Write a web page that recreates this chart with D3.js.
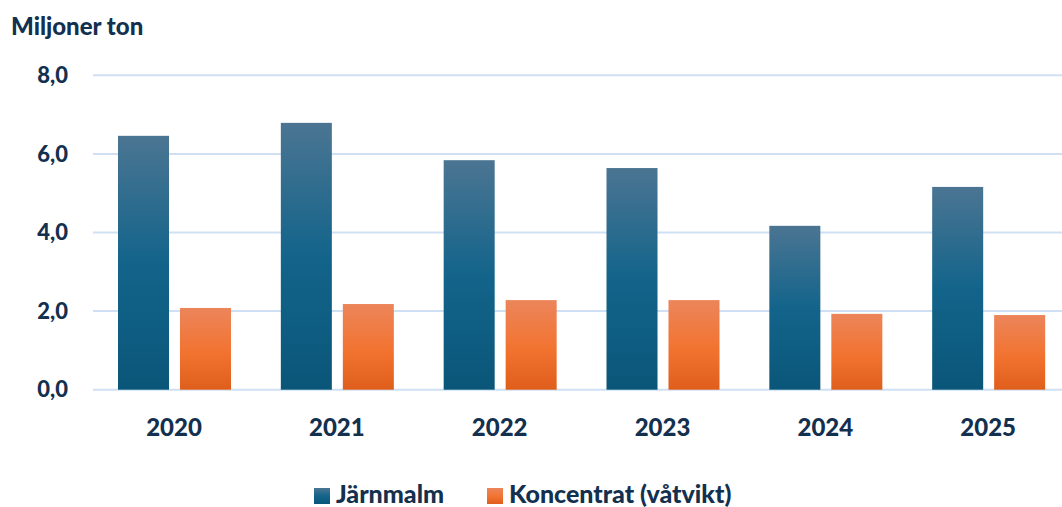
<!DOCTYPE html>
<html>
<head>
<meta charset="utf-8">
<script src="https://cdn.jsdelivr.net/npm/d3@7"></script>
<style>
  body { margin: 0; background: #fff; }
  svg { display: block; font-family: Lato, "Open Sans", sans-serif; font-weight: 900; }
</style>
</head>
<body>
<div id="root"></div>
<script>
"use strict";

// data
var years = ['2020', '2021', '2022', '2023', '2024', '2025'];
var series = ['Järnmalm', 'Koncentrat (våtvikt)'];
var jarnmalm = [6.46, 6.79, 5.84, 5.64, 4.17, 5.16];
var koncentrat = [2.08, 2.18, 2.28, 2.28, 1.93, 1.90];
var yTicks = [0, 2, 4, 6, 8];

var width = 1062;
var height = 507;
var textColor = '#14304f';
var gridColor = '#cfe0f4';

var svg = d3.select('#root').append('svg')
    .attr('width', width)
    .attr('height', height);

var defs = svg.append('defs');

function gradient( id, stops ) {
    var g = defs.append('linearGradient')
        .attr('id', id)
        .attr('x1', 0).attr('y1', 0)
        .attr('x2', 0).attr('y2', 1);
    stops.forEach(function( s ) {
        g.append('stop').attr('offset', s[0]).attr('stop-color', s[1]);
    });
}

gradient('g-blue', [[0, '#4b7592'], [0.5, '#13648b'], [1, '#0a5679']]);
gradient('g-orange', [[0, '#ec855b'], [0.55, '#f27330'], [1, '#df5e1b']]);

var fills = ['url(#g-blue)', 'url(#g-orange)'];

var x0 = d3.scaleBand()
    .domain(years)
    .range([93, 1070])
    .padding(0);

var x1 = d3.scaleBand()
    .domain(series)
    .range([25, 138])
    .paddingInner(0.177)
    .paddingOuter(0);

var y = d3.scaleLinear()
    .domain([0, 8])
    .range([389.7, 75.3]);

// gridlines
svg.append('g').selectAll('line')
    .data(yTicks)
    .enter().append('line')
    .attr('x1', 93)
    .attr('x2', width)
    .attr('y1', function(d) { return y(d); })
    .attr('y2', function(d) { return y(d); })
    .attr('stroke', gridColor)
    .attr('stroke-width', 2);

// y axis labels
var fmt = function(d) { return d3.format('.1f')(d).replace('.', ','); };
svg.append('g').selectAll('text')
    .data(yTicks)
    .enter().append('text')
    .attr('x', 68)
    .attr('y', function(d) { return y(d); })
    .attr('dy', '0.35em')
    .attr('text-anchor', 'end')
    .attr('fill', textColor)
    .style('font-size', '22px')
    .text(fmt);

svg.append('text')
    .attr('x', 11)
    .attr('y', 35)
    .attr('fill', textColor)
    .style('font-size', '24px')
    .text('Miljoner ton');

// bars
var rows = years.map(function(yr, i) {
    return { year: yr, values: [jarnmalm[i], koncentrat[i]] };
});

var groups = svg.append('g').selectAll('g')
    .data(rows)
    .enter().append('g')
    .attr('transform', function(d) { return 'translate(' + x0(d.year) + ',0)'; });

groups.selectAll('rect')
    .data(function(d) { return d.values.map(function(v, j) { return { key: series[j], value: v, i: j }; }); })
    .enter().append('rect')
    .attr('x', function(d) { return x1(d.key); })
    .attr('width', x1.bandwidth())
    .attr('y', function(d) { return y(d.value); })
    .attr('height', function(d) { return y(0) - y(d.value); })
    .attr('fill', function(d) { return fills[d.i]; });

// x axis labels
svg.append('g').selectAll('text')
    .data(years)
    .enter().append('text')
    .attr('x', function(d) { return x0(d) + 81; })
    .attr('y', 436)
    .attr('text-anchor', 'middle')
    .attr('fill', textColor)
    .style('font-size', '24px')
    .text(function(d) { return d; });

// legend
var legend = svg.append('g');
var legendX = [314, 487];
series.forEach(function(s, i) {
    legend.append('rect')
        .attr('x', legendX[i])
        .attr('y', 488)
        .attr('width', 16)
        .attr('height', 16)
        .attr('fill', fills[i]);
    legend.append('text')
        .attr('x', legendX[i] + 22)
        .attr('y', 503)
        .attr('fill', textColor)
        .style('font-size', '25px')
        .text(s);
});
</script>
</body>
</html>
